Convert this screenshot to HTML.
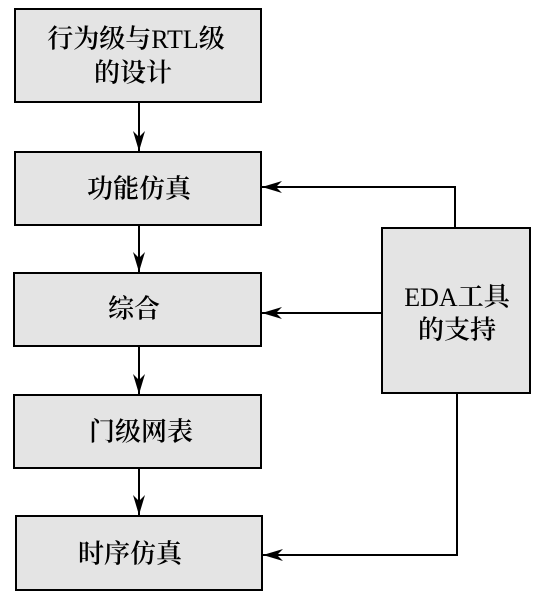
<!DOCTYPE html>
<html><head><meta charset="utf-8"><style>
html,body{margin:0;padding:0;background:#fff;}
svg{display:block;}
text{font-family:"Liberation Serif","Noto Serif CJK SC",serif;font-size:26px;font-weight:600;fill:#000;text-anchor:middle;dominant-baseline:central;}
.l{font-weight:normal;}
</style></head><body>
<svg width="542" height="609" viewBox="0 0 542 609" xmlns="http://www.w3.org/2000/svg">
<defs>
<marker id="a" viewBox="0 0 20 12" refX="20" refY="6" markerWidth="20" markerHeight="12" markerUnits="userSpaceOnUse" orient="auto">
<path d="M0,0 L20,6 L0,12 L6,6 Z" fill="#000"/>
</marker>
</defs>
<g fill="#e4e4e4" stroke="#000" stroke-width="2">
<rect x="15" y="9" width="246" height="93"/>
<rect x="15" y="152" width="246" height="73"/>
<rect x="14" y="273" width="247" height="73"/>
<rect x="14" y="395" width="247" height="73"/>
<rect x="16" y="516" width="246" height="74"/>
<rect x="382" y="228" width="148" height="165"/>
</g>
<g stroke="#000" stroke-width="2" fill="none">
<line x1="139" y1="102" x2="139" y2="151" marker-end="url(#a)"/>
<line x1="139" y1="225" x2="139" y2="272" marker-end="url(#a)"/>
<line x1="139" y1="346" x2="139" y2="394" marker-end="url(#a)"/>
<line x1="139" y1="468" x2="139" y2="515" marker-end="url(#a)"/>
<polyline points="455,228 455,187 262,187" marker-end="url(#a)"/>
<line x1="382" y1="313" x2="262" y2="313" marker-end="url(#a)"/>
<polyline points="457,393 457,555 263,555" marker-end="url(#a)"/>
</g>
<text x="136" y="39">行为级与<tspan class="l">RTL</tspan>级</text>
<text x="133" y="73">的设计</text>
<text x="139" y="189">功能仿真</text>
<text x="134" y="309">综合</text>
<text x="141" y="432">门级网表</text>
<text x="130" y="554">时序仿真</text>
<text x="457" y="297"><tspan class="l">EDA</tspan>工具</text>
<text x="457" y="330">的支持</text>
</svg>
</body></html>
